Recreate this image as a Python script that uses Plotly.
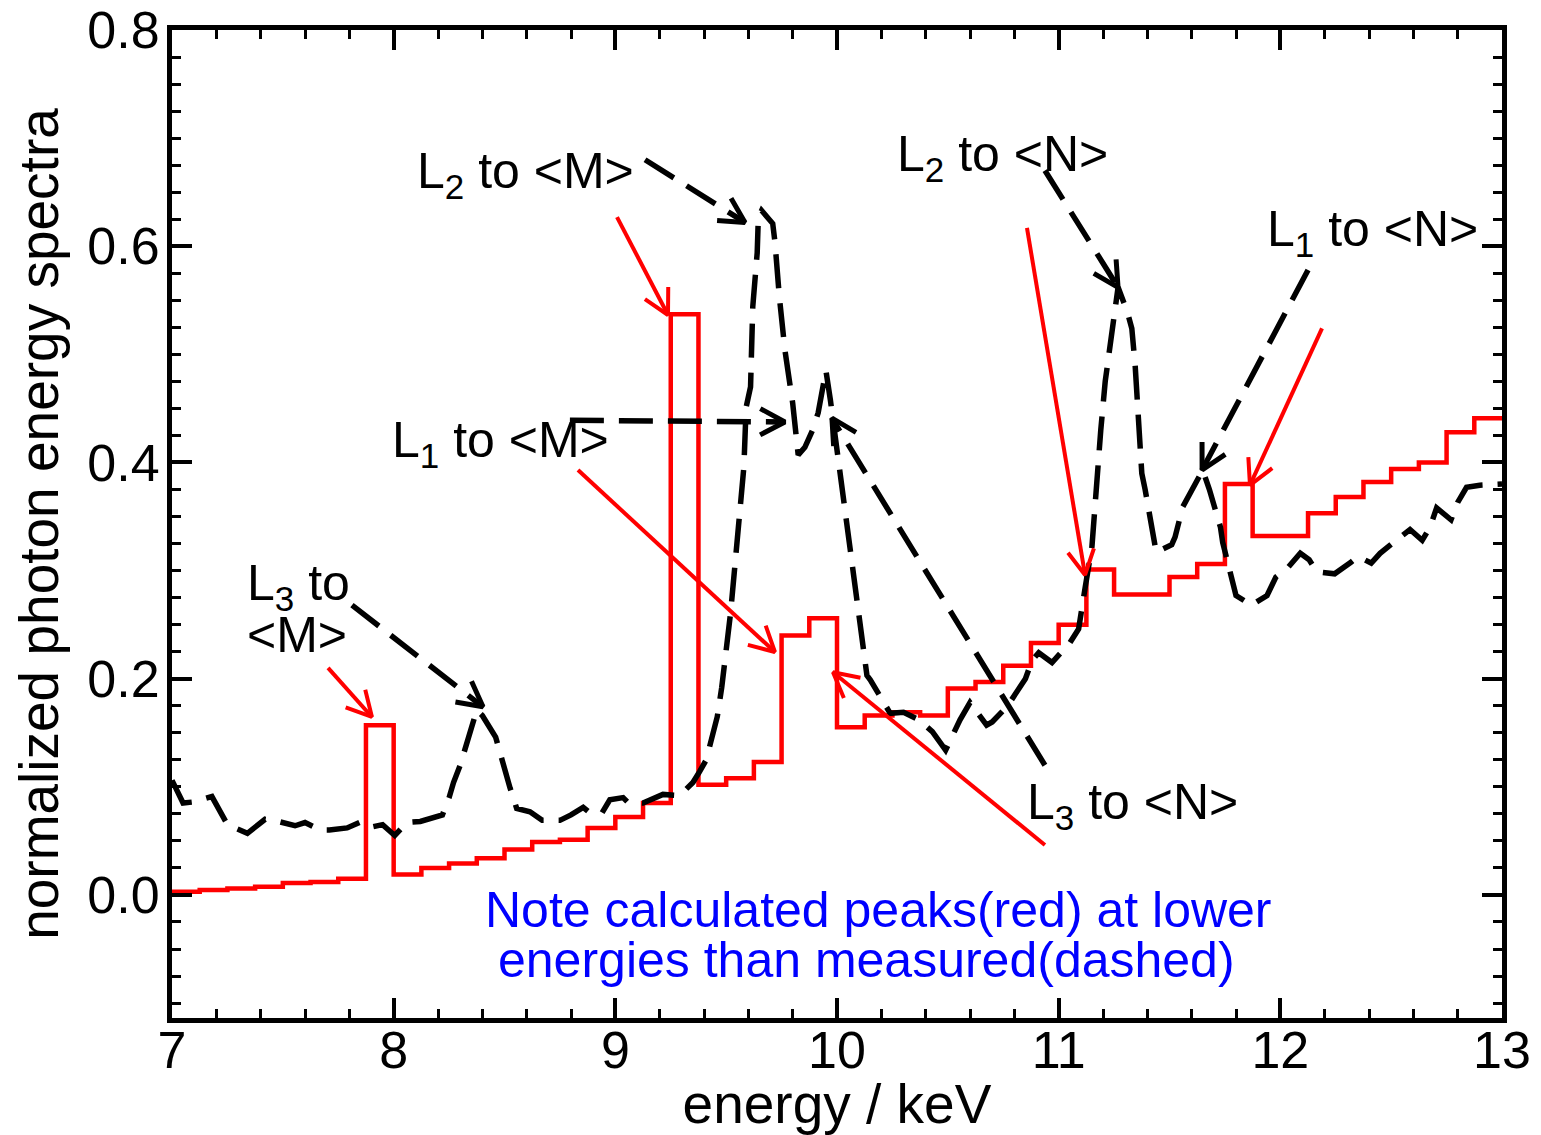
import math
import plotly.graph_objects as go

# ---------------- data ----------------
# calculated spectrum (red histogram), bins of 0.125 keV starting at 7.0
calc_bin_start = [7.0 + 0.125 * i for i in range(48)]
calc_values = [0.003, 0.0046, 0.006, 0.0077, 0.011, 0.012, 0.015, 0.157,
               0.019, 0.025, 0.029, 0.034, 0.042, 0.049, 0.051, 0.062,
               0.072, 0.085, 0.537, 0.102, 0.108, 0.123, 0.240, 0.256,
               0.155, 0.166, 0.169, 0.166, 0.191, 0.197, 0.212, 0.233,
               0.250, 0.301, 0.278, 0.278, 0.294, 0.306, 0.380, 0.332,
               0.332, 0.353, 0.368, 0.382, 0.394, 0.400, 0.428, 0.441]
calc_end = 13.0

# measured spectrum (black dashed)
meas_energy = [7.00, 7.05, 7.095, 7.18, 7.25, 7.34, 7.42, 7.48, 7.555, 7.60,
               7.67, 7.71, 7.79, 7.85, 7.905, 7.95, 8.005, 8.06, 8.12, 8.22,
               8.25, 8.27, 8.30, 8.345, 8.375, 8.40, 8.43, 8.46, 8.525, 8.555,
               8.615, 8.67, 8.75, 8.80, 8.855, 8.885, 8.94, 8.975, 9.035, 9.055,
               9.125, 9.215, 9.29, 9.35, 9.38, 9.41, 9.46, 9.48, 9.52, 9.54,
               9.56, 9.58, 9.59, 9.61, 9.62, 9.64, 9.645, 9.66, 9.71, 9.72,
               9.74, 9.765, 9.80, 9.825, 9.855, 9.89, 9.915, 9.95, 9.97, 10.05,
               10.135, 10.15, 10.24, 10.30, 10.37, 10.43, 10.49, 10.555, 10.60, 10.675,
               10.70, 10.77, 10.85, 10.88, 10.91, 10.97, 11.05, 11.09, 11.10, 11.12,
               11.15, 11.17, 11.19, 11.21, 11.24, 11.268, 11.31, 11.33, 11.345, 11.36,
               11.375, 11.39, 11.42, 11.44, 11.51, 11.525, 11.56, 11.615, 11.65, 11.68,
               11.73, 11.74, 11.78, 11.80, 11.87, 11.94, 11.98, 12.035, 12.09, 12.13,
               12.165, 12.245, 12.32, 12.35, 12.41, 12.45, 12.51, 12.585, 12.64, 12.675,
               12.705, 12.77, 12.80, 12.84, 12.90, 13.00]
meas_values = [0.106, 0.085, 0.086, 0.091, 0.065, 0.057, 0.070, 0.068, 0.064, 0.067,
               0.060, 0.060, 0.062, 0.0675, 0.063, 0.065, 0.055, 0.067, 0.068, 0.074,
               0.090, 0.104, 0.120, 0.153, 0.171, 0.166, 0.155, 0.146, 0.099, 0.080,
               0.077, 0.069, 0.069, 0.074, 0.081, 0.076, 0.076, 0.088, 0.090, 0.086,
               0.085, 0.093, 0.092, 0.104, 0.114, 0.125, 0.165, 0.192, 0.261, 0.303,
               0.353, 0.396, 0.451, 0.470, 0.544, 0.594, 0.626, 0.633, 0.621, 0.604,
               0.553, 0.504, 0.455, 0.407, 0.414, 0.430, 0.446, 0.485, 0.458, 0.334,
               0.203, 0.199, 0.168, 0.169, 0.162, 0.151, 0.134, 0.162, 0.178, 0.157,
               0.160, 0.175, 0.200, 0.217, 0.224, 0.215, 0.233, 0.246, 0.262, 0.285,
               0.322, 0.385, 0.430, 0.475, 0.525, 0.562, 0.539, 0.524, 0.490, 0.440,
               0.390, 0.375, 0.342, 0.317, 0.324, 0.331, 0.359, 0.379, 0.393, 0.375,
               0.340, 0.326, 0.294, 0.277, 0.268, 0.277, 0.294, 0.303, 0.316, 0.310,
               0.299, 0.297, 0.308, 0.313, 0.307, 0.316, 0.326, 0.338, 0.328, 0.340,
               0.358, 0.347, 0.363, 0.377, 0.379, 0.380]

# annotation arrows: (start x, start y, tip x, tip y)
dashed_arrows = [
    (7.812, 0.268, 8.403, 0.174),    # L3 to <M>
    (9.134, 0.680, 9.585, 0.622),    # L2 to <M>
    (8.795, 0.439, 9.765, 0.4375),   # L1 to <M>
    (10.938, 0.670, 11.268, 0.562),  # L2 to <N>
    (12.125, 0.578, 11.647, 0.393),  # L1 to <N>
    (10.938, 0.120, 9.977, 0.441),   # L3 to <N>
]
red_arrows = [
    (7.704, 0.210, 7.902, 0.1646),   # L3 to <M>
    (9.0075, 0.627, 9.2376, 0.5364), # L2 to <M>
    (8.8316, 0.393, 9.720, 0.2247),  # L1 to <M>
    (10.938, 0.0462, 9.982, 0.206),  # L3 to <N>
    (10.857, 0.617, 11.119, 0.296),  # L2 to <N>
    (12.188, 0.524, 11.863, 0.379),  # L1 to <N>
]

# labels: (text, x, y)
labels = [
    ("L<sub>2</sub> to &lt;M&gt;", 8.096, 0.666),
    ("L<sub>1</sub> to &lt;M&gt;", 7.983, 0.418),
    ("L<sub>3</sub> to", 7.329, 0.285),
    ("&lt;M&gt;", 7.329, 0.240),
    ("L<sub>2</sub> to &lt;N&gt;", 10.262, 0.6825),
    ("L<sub>1</sub> to &lt;N&gt;", 11.931, 0.613),
    ("L<sub>3</sub> to &lt;N&gt;", 10.848, 0.083),
]
note_lines = [
    ("Note calculated peaks(red) at lower", 10.185, -0.014),
    ("energies than measured(dashed)", 10.131, -0.060),
]

x_range = [7, 13]
y_range = [-0.1138, 0.8]
x_ticks = [7, 8, 9, 10, 11, 12, 13]
y_ticks = [0.0, 0.2, 0.4, 0.6, 0.8]

# ---------------- layout geometry ----------------
W, H = 1541, 1135
ML, MR, MT, MB = 172, 39, 30, 117
sx = (W - ML - MR) / (x_range[1] - x_range[0])   # px per keV
sy = (H - MT - MB) / (y_range[1] - y_range[0])   # px per unit

FONT = "Liberation Sans, Arial, Helvetica, sans-serif"
FS_LABEL = 50
FS_TICK = 52
FS_TITLE = 55


def arrow_head(x0, y0, x1, y1, length=28, ang=28):
    dx, dy = (x1 - x0) * sx, (y1 - y0) * sy
    n = math.hypot(dx, dy)
    ux, uy = -dx / n, -dy / n
    a = math.radians(ang)
    xs, ys = [], []
    for s in (1, -1):
        bx = ux * math.cos(s * a) - uy * math.sin(s * a)
        by = ux * math.sin(s * a) + uy * math.cos(s * a)
        xs.append(x1 + length * bx / sx)
        ys.append(y1 + length * by / sy)
    return [xs[0], x1, xs[1]], [ys[0], y1, ys[1]]


DASH = "34px,15px"
fig = go.Figure()

# red histogram
fig.add_trace(go.Scatter(
    x=calc_bin_start + [calc_end], y=calc_values + [calc_values[-1]],
    mode="lines", line=dict(color="#ff0000", width=4.5, shape="hv"),
    showlegend=False, hoverinfo="skip"))

# measured dashed
fig.add_trace(go.Scatter(
    x=meas_energy, y=meas_values, mode="lines",
    line=dict(color="black", width=5.5, dash=DASH),
    showlegend=False, hoverinfo="skip"))

# arrows
for (x0, y0, x1, y1) in dashed_arrows:
    fig.add_trace(go.Scatter(x=[x0, x1], y=[y0, y1], mode="lines",
                             line=dict(color="black", width=5.5, dash=DASH),
                             showlegend=False, hoverinfo="skip"))
    hx, hy = arrow_head(x0, y0, x1, y1)
    fig.add_trace(go.Scatter(x=hx, y=hy, mode="lines",
                             line=dict(color="black", width=5),
                             showlegend=False, hoverinfo="skip"))
for (x0, y0, x1, y1) in red_arrows:
    fig.add_trace(go.Scatter(x=[x0, x1], y=[y0, y1], mode="lines",
                             line=dict(color="#ff0000", width=4),
                             showlegend=False, hoverinfo="skip"))
    hx, hy = arrow_head(x0, y0, x1, y1)
    fig.add_trace(go.Scatter(x=hx, y=hy, mode="lines",
                             line=dict(color="#ff0000", width=4),
                             showlegend=False, hoverinfo="skip"))

annotations = []
for (t, x, y) in labels:
    annotations.append(dict(text=t, x=x, y=y, xref="x", yref="y",
                            xanchor="left", yanchor="middle", showarrow=False,
                            font=dict(family=FONT, size=FS_LABEL, color="black")))
for (t, x, y) in note_lines:
    annotations.append(dict(text=t, x=x, y=y, xref="x", yref="y",
                            xanchor="center", yanchor="middle", showarrow=False,
                            font=dict(family=FONT, size=FS_LABEL, color="#0000ff")))

axis_common = dict(
    showline=True, linewidth=5, linecolor="black", mirror="ticks",
    ticks="inside", ticklen=20, tickwidth=4, tickcolor="black",
    showgrid=False, zeroline=False, automargin=False,
    tickfont=dict(family=FONT, size=FS_TICK, color="black"),
)

fig.update_layout(
    width=W, height=H,
    margin=dict(l=ML, r=MR, t=MT, b=MB, pad=0, autoexpand=False),
    paper_bgcolor="white", plot_bgcolor="white",
    font=dict(family=FONT, size=FS_LABEL, color="black"),
    xaxis=dict(range=x_range, tickvals=x_ticks, ticklabelstandoff=-17,
               minor=dict(ticks="inside", ticklen=9, tickwidth=3, dtick=0.2,
                          tick0=7, tickcolor="black"),
               title=dict(text="energy / keV", font=dict(family=FONT, size=FS_TITLE),
                          standoff=27),
               **axis_common),
    yaxis=dict(range=y_range, tickvals=y_ticks, tickformat=".1f",
               ticklabelstandoff=-3,
               minor=dict(ticks="inside", ticklen=9, tickwidth=3, dtick=0.025,
                          tick0=0, tickcolor="black"),
               title=dict(text="normalized photon energy spectra",
                          font=dict(family=FONT, size=FS_TITLE), standoff=13),
               **axis_common),
    annotations=annotations,
)

fig.write_html("out.html")
